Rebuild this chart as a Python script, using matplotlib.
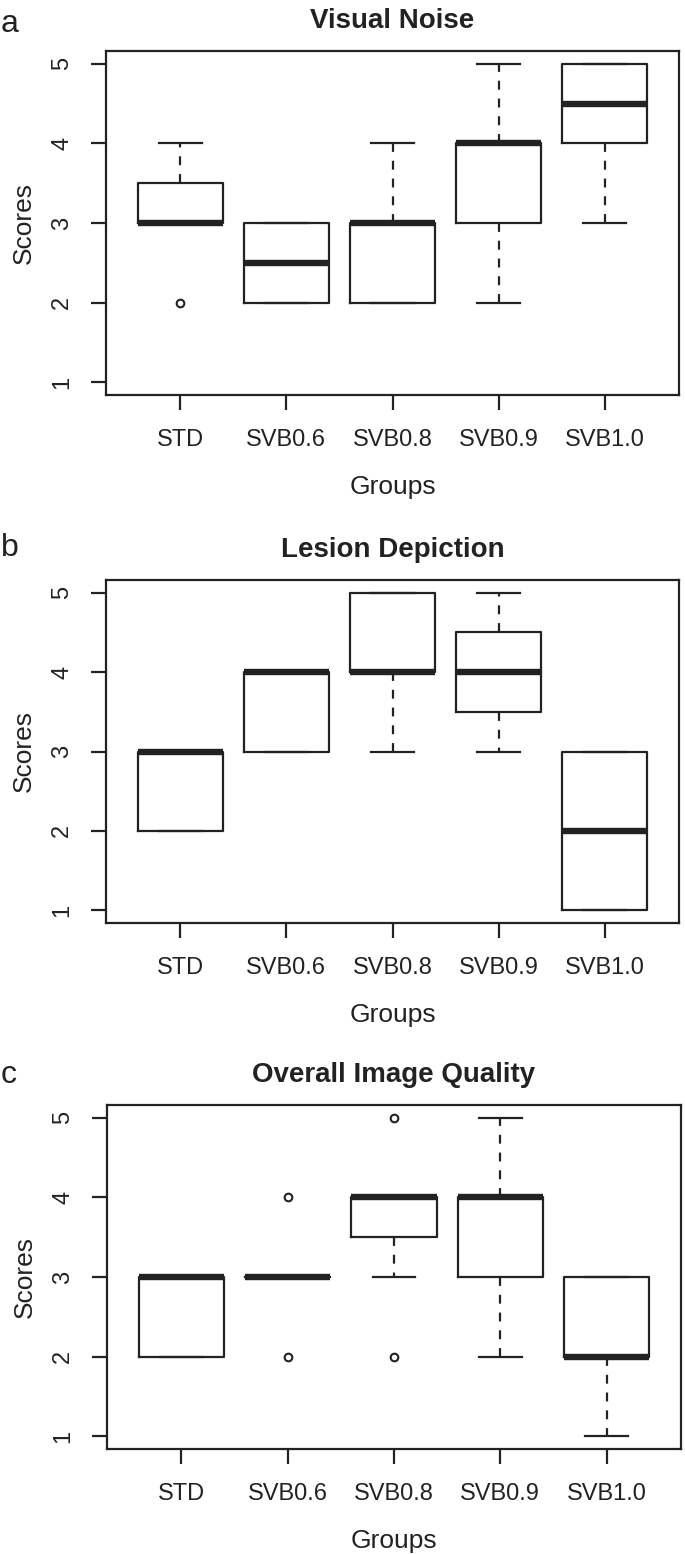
import matplotlib
matplotlib.use("Agg")
import matplotlib.pyplot as plt

plt.rcParams["font.family"] = ["Liberation Sans", "DejaVu Sans"]

groups = ["STD", "SVB0.6", "SVB0.8", "SVB0.9", "SVB1.0"]

# box statistics per panel: lower whisker, q1, median, q3, upper whisker, outliers
noise_lo = [3, 2, 2, 2, 3]
noise_q1 = [3, 2, 2, 3, 4]
noise_med = [3, 2.5, 3, 4, 4.5]
noise_q3 = [3.5, 3, 3, 4, 5]
noise_hi = [4, 3, 4, 5, 5]
noise_out = [[2], [], [], [], []]

lesion_lo = [2, 3, 3, 3, 1]
lesion_q1 = [2, 3, 4, 3.5, 1]
lesion_med = [3, 4, 4, 4, 2]
lesion_q3 = [3, 4, 5, 4.5, 3]
lesion_hi = [3, 4, 5, 5, 3]
lesion_out = [[], [], [], [], []]

quality_lo = [2, 3, 3, 2, 1]
quality_q1 = [2, 3, 3.5, 3, 2]
quality_med = [3, 3, 4, 4, 2]
quality_q3 = [3, 3, 4, 4, 3]
quality_hi = [3, 3, 4, 5, 3]
quality_out = [[], [2, 4], [2, 5], [], []]

panels = [
    ("a", "Visual Noise", noise_lo, noise_q1, noise_med, noise_q3, noise_hi, noise_out),
    ("b", "Lesion Depiction", lesion_lo, lesion_q1, lesion_med, lesion_q3, lesion_hi, lesion_out),
    ("c", "Overall Image Quality", quality_lo, quality_q1, quality_med, quality_q3, quality_hi, quality_out),
]

W, H = 685, 1554
# axes frames in pixels: left, right, top, bottom
frames = [(106, 679, 51, 395), (106, 679, 580, 923), (107, 681, 1105, 1449)]
letter_y = [24, 548, 1075]

fig = plt.figure(figsize=(W / 100, H / 100), dpi=100)

for (letter, title, lo, q1, med, q3, hi, out), (l, r, t, b), ly in zip(panels, frames, letter_y):
    ax = fig.add_axes([l / W, 1 - b / H, (r - l) / W, (b - t) / H])
    stats = []
    for i in range(len(groups)):
        stats.append(dict(whislo=lo[i], q1=q1[i], med=med[i], q3=q3[i],
                          whishi=hi[i], fliers=out[i], label=groups[i]))
    ax.bxp(stats, positions=range(1, len(groups) + 1), widths=0.8, capwidths=0.4,
           showfliers=True,
           boxprops=dict(color="#222222", linewidth=1.6),
           whiskerprops=dict(color="#222222", linewidth=1.6, linestyle=(0, (4, 4))),
           capprops=dict(color="#222222", linewidth=1.6),
           medianprops=dict(color="#222222", linewidth=4.6, solid_capstyle="butt"),
           flierprops=dict(marker="o", markersize=5.5, markerfacecolor="none",
                           markeredgecolor="#222222", markeredgewidth=1.5, linestyle="none"))
    ax.set_xlim(0.3, 5.7)
    ax.set_ylim(0.84, 5.16)
    ax.set_yticks([1, 2, 3, 4, 5])
    ax.set_yticklabels(["1", "2", "3", "4", "5"], rotation=90, va="center")
    ax.set_xticks(range(1, len(groups) + 1))
    ax.set_xticklabels(groups)
    ax.tick_params(axis="both", direction="out", length=10.5, width=1.6, color="#222222",
                   labelsize=17, labelcolor="#222222")
    ax.tick_params(axis="y", pad=13)
    ax.tick_params(axis="x", pad=14)
    for sp in ax.spines.values():
        sp.set_linewidth(1.6)
        sp.set_color("#222222")
    ax.set_xlabel("Groups", fontsize=19, color="#222222", labelpad=17)
    ax.set_ylabel("Scores", fontsize=19, color="#222222", labelpad=11)
    ax.set_title(title, fontsize=20, fontweight="bold", color="#222222", pad=16.5)
    fig.text(0.5 / W, 1 - ly / H, letter, fontsize=23, color="#222222", ha="left", va="center")

fig.savefig("out.png", dpi=100)
